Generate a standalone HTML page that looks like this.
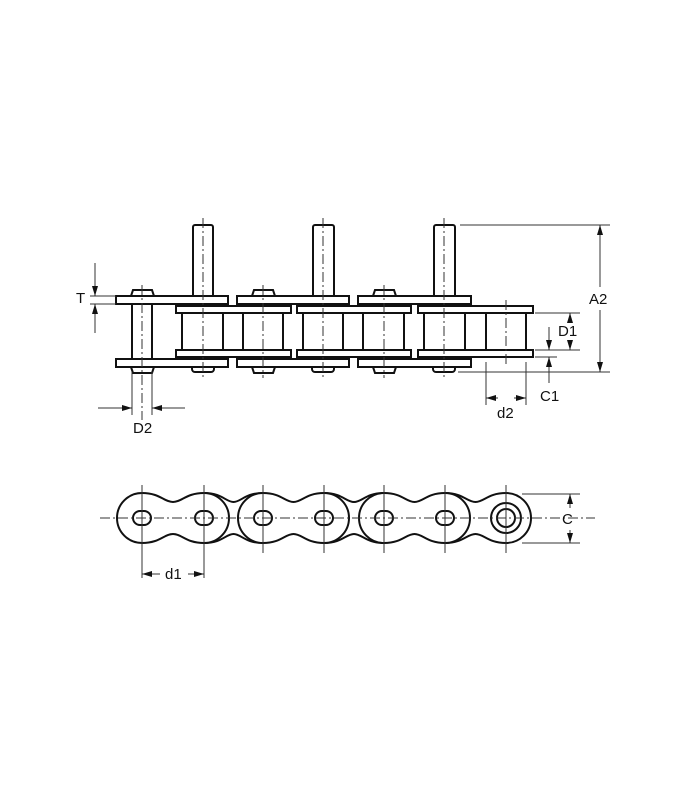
<!DOCTYPE html>
<html><head><meta charset="utf-8"><style>
html,body{margin:0;padding:0;background:#fff}
svg{display:block}
text{font-family:"Liberation Sans",sans-serif;font-size:15px;fill:#111}
</style></head><body>
<svg width="700" height="800" viewBox="0 0 700 800" xmlns="http://www.w3.org/2000/svg">
<defs>
<marker id="a" viewBox="0 0 10 6" refX="10" refY="3" markerWidth="10" markerHeight="6" orient="auto-start-reverse" markerUnits="userSpaceOnUse"><path d="M0,0 L10,3 L0,6 Z" fill="#111"/></marker>
</defs>
<g stroke="#111" stroke-width="2" fill="#fff">
<!-- extended pins -->
<rect x="193" y="225" width="20" height="72" rx="2"/>
<rect x="313" y="225" width="21" height="72" rx="2"/>
<rect x="434" y="225" width="21" height="72" rx="2"/>
<!-- pin bottoms -->
<rect x="192" y="365" width="22" height="7" rx="3"/>
<rect x="312" y="365" width="22" height="7" rx="3"/>
<rect x="433" y="365" width="22" height="7" rx="3"/>
<!-- rivet heads -->
<path d="M131,296 L133,290 L152,290 L154,296 Z M131,367 L133,373 L152,373 L154,367 Z"/>
<path d="M252,296 L254,290 L273,290 L275,296 Z M252,367 L254,373 L273,373 L275,367 Z"/>
<path d="M373,296 L375,290 L394,290 L396,296 Z M373,367 L375,373 L394,373 L396,367 Z"/>
<!-- left pin -->
<rect x="132" y="304" width="20" height="55"/>
<!-- outer plates -->
<rect x="116" y="296" width="112" height="8"/><rect x="237" y="296" width="112" height="8"/><rect x="358" y="296" width="113" height="8"/>
<rect x="116" y="359" width="112" height="8"/><rect x="237" y="359" width="112" height="8"/><rect x="358" y="359" width="113" height="8"/>
<!-- inner plates -->
<rect x="176" y="306" width="115" height="7"/><rect x="297" y="306" width="114" height="7"/><rect x="418" y="306" width="115" height="7"/>
<rect x="176" y="350" width="115" height="7"/><rect x="297" y="350" width="114" height="7"/><rect x="418" y="350" width="115" height="7"/>
</g>
<g stroke="#111" stroke-width="2">
<path d="M182,313V350M223,313V350M243,313V350M283,313V350M303,313V350M343,313V350M363,313V350M404,313V350M424,313V350M465,313V350M486,313V350M526,313V350"/>
</g>
<!-- centerlines -->
<g stroke="#333" stroke-width="1" stroke-dasharray="10,3,2,3" fill="none">
<path d="M142,285V420M203,218V378M263,285V378M323,218V378M384,285V378M444,218V378M506,300V365"/>
<path d="M100,518H595"/>
</g>
<!-- dimensions top -->
<g stroke="#333" stroke-width="1" fill="none">
<path d="M90,296H116M90,304H116"/>
<path d="M95,263V296" marker-end="url(#a)"/><path d="M95,333V304" marker-end="url(#a)"/>
<path d="M132,372V415M152,372V415"/>
<path d="M98,408H132" marker-end="url(#a)"/><path d="M185,408H152" marker-end="url(#a)"/>
<path d="M460,225H610M458,372H610"/>
<path d="M600,287V225" marker-end="url(#a)"/><path d="M600,310V372" marker-end="url(#a)"/>
<path d="M535,313H580M535,350H580M535,357H557"/>
<path d="M570,320V313" marker-end="url(#a)"/><path d="M570,343V350" marker-end="url(#a)"/>
<path d="M549,327V350" marker-end="url(#a)"/><path d="M549,383V357" marker-end="url(#a)"/>
<path d="M486,362V405M526,362V405"/>
<path d="M498,398H486" marker-end="url(#a)"/><path d="M514,398H526" marker-end="url(#a)"/>
</g>
<text x="76" y="303">T</text>
<text x="133" y="433">D2</text>
<text x="589" y="304">A2</text>
<text x="558" y="336">D1</text>
<text x="540" y="401">C1</text>
<text x="497" y="418">d2</text>
<!-- bottom view -->
<g stroke="#111" stroke-width="2" fill="#fff">
<path d="M204,493 C222,493 226,502 233.5,502 C241,502 245,493 263,493 L263,543 C245,543 241,534 233.5,534 C226,534 222,543 204,543 Z"/>
<path d="M324,493 C342,493 346,502 354,502 C362,502 366,493 384,493 L384,543 C366,543 362,534 354,534 C346,534 342,543 324,543 Z"/>
<path d="M445,493 C463,493 467,502 475.5,502 C484,502 488,493 506,493 A25,25 0 0 1 506,543 C488,543 484,534 475.5,534 C467,534 463,543 445,543 Z"/>
<path d="M142,493 C160,493 164,502 173,502 C182,502 186,493 204,493 A25,25 0 0 1 204,543 C186,543 182,534 173,534 C164,534 160,543 142,543 A25,25 0 0 1 142,493 Z"/>
<path d="M263,493 C281,493 285,502 293.5,502 C302,502 306,493 324,493 A25,25 0 0 1 324,543 C306,543 302,534 293.5,534 C285,534 281,543 263,543 A25,25 0 0 1 263,493 Z"/>
<path d="M384,493 C402,493 406,502 414.5,502 C423,502 427,493 445,493 A25,25 0 0 1 445,543 C427,543 423,534 414.5,534 C406,534 402,543 384,543 A25,25 0 0 1 384,493 Z"/>
<rect x="133" y="511" width="18" height="14" rx="7"/><rect x="195" y="511" width="18" height="14" rx="7"/>
<rect x="254" y="511" width="18" height="14" rx="7"/><rect x="315" y="511" width="18" height="14" rx="7"/>
<rect x="375" y="511" width="18" height="14" rx="7"/><rect x="436" y="511" width="18" height="14" rx="7"/>
<circle cx="506" cy="518" r="15"/><circle cx="506" cy="518" r="9"/>
</g>
<g stroke="#333" stroke-width="1" fill="none">
<path d="M142,485V578M204,485V578M263,485V553M324,485V553M384,485V553M445,485V553M506,485V553"/>
<path d="M100,518H590" stroke-dasharray="10,3,2,3"/>
<path d="M522,494H580M522,543H580"/>
<path d="M570,508V494" marker-end="url(#a)"/><path d="M570,530V543" marker-end="url(#a)"/>
<path d="M160,574H142" marker-end="url(#a)"/><path d="M188,574H204" marker-end="url(#a)"/>
</g>
<text x="562" y="524">C</text>
<text x="165" y="579">d1</text>
</svg>
</body></html>
